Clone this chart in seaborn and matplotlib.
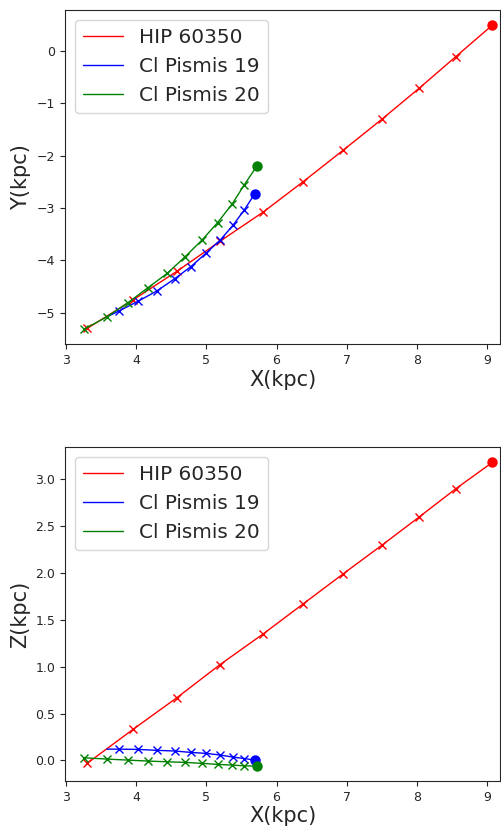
import matplotlib
matplotlib.use("Agg")
import matplotlib.pyplot as plt
import seaborn as sns
import pandas as pd

# Present position first, then orbit points back in time
hip_x = [9.08, 8.56, 8.04, 7.51, 6.95, 6.38, 5.81, 5.19, 4.58, 3.95, 3.30]
hip_y = [0.49, -0.11, -0.71, -1.30, -1.90, -2.50, -3.08, -3.64, -4.21, -4.76, -5.30]
hip_z = [3.18, 2.90, 2.60, 2.30, 1.99, 1.67, 1.35, 1.02, 0.67, 0.33, -0.03]

p19_x = [5.69, 5.54, 5.38, 5.20, 4.99, 4.78, 4.55, 4.30, 4.03, 3.75, 3.58]
p19_y = [-2.73, -3.04, -3.33, -3.61, -3.87, -4.12, -4.35, -4.58, -4.78, -4.97, -5.08]
p19_z = [0.003, 0.02, 0.035, 0.057, 0.075, 0.085, 0.10, 0.107, 0.117, 0.12, 0.12]

p20_x = [5.72, 5.54, 5.37, 5.16, 4.94, 4.69, 4.44, 4.16, 3.88, 3.58, 3.25]
p20_y = [-2.20, -2.56, -2.92, -3.28, -3.61, -3.94, -4.25, -4.53, -4.81, -5.08, -5.32]
p20_z = [-0.061, -0.058, -0.05, -0.043, -0.032, -0.021, -0.015, -0.007, 0.003, 0.014, 0.028]

names = ["HIP 60350", "Cl Pismis 19", "Cl Pismis 20"]
colors = ["red", "blue", "green"]
n_marks = [11, 10, 11]  # orbit points (after the present one) carrying an 'x' marker

series = [(hip_x, hip_y, hip_z), (p19_x, p19_y, p19_z), (p20_x, p20_y, p20_z)]

sns.set_style("ticks")
plt.rcParams["font.family"] = ["DejaVu Sans"]

W, H = 501, 826
fig = plt.figure(figsize=(W / 100, H / 100), dpi=100)
ax1 = fig.add_axes([65 / W, 1 - 344 / H, 435 / W, 334 / H])
ax2 = fig.add_axes([65 / W, 1 - 781 / H, 435 / W, 334 / H])

for ax, comp, ylabel, ylim in [
    (ax1, 1, "Y(kpc)", (-5.60, 0.78)),
    (ax2, 2, "Z(kpc)", (-0.22, 3.345)),
]:
    for (sx, sy, sz), name, c, nm in zip(series, names, colors, n_marks):
        vals = [sx, sy, sz]
        df = pd.DataFrame({"x": sx, "v": vals[comp]})
        sns.lineplot(data=df, x="x", y="v", sort=False, estimator=None,
                     color=c, lw=1.0, label=name, ax=ax)
        mk = df.iloc[1:nm]
        ax.plot(mk["x"], mk["v"], linestyle="", marker="x", color=c,
                markersize=6, markeredgewidth=1.0)
        ax.plot(df["x"].iloc[:1], df["v"].iloc[:1], linestyle="", marker="o",
                color=c, markersize=7.5, markeredgewidth=0)
    ax.set_xlim(2.981, 9.19)
    ax.set_ylim(*ylim)
    ax.set_xticks(range(3, 10))
    ax.set_xlabel("X(kpc)", fontsize=15, labelpad=2)
    ax.set_ylabel(ylabel, fontsize=15)
    ax.tick_params(labelsize=9)
    for s in ax.spines.values():
        s.set_visible(True)
    ax.legend(loc="upper left", fontsize=14.4, handlelength=2.0, handletextpad=0.8)

ax2.set_yticks([0.0, 0.5, 1.0, 1.5, 2.0, 2.5, 3.0])
fig.savefig("out.png", dpi=100)
